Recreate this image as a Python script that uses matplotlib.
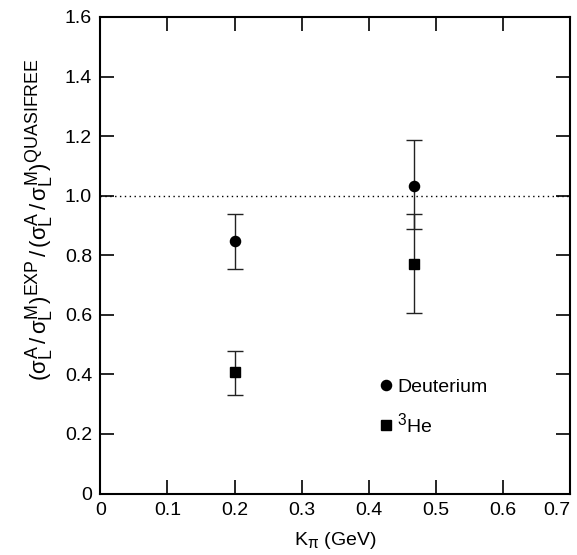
import matplotlib
matplotlib.use("Agg")
import matplotlib.pyplot as plt
import matplotlib._mathtext as _mt

_mt.SHRINK_FACTOR = 0.8

plt.rcParams['font.family'] = ['Liberation Sans', 'DejaVu Sans']
plt.rcParams['mathtext.fontset'] = 'custom'
plt.rcParams['mathtext.rm'] = 'Liberation Sans'
plt.rcParams['mathtext.it'] = 'Liberation Sans'
plt.rcParams['mathtext.bf'] = 'Liberation Sans'

# Data
k_pi = [0.2, 0.468]
deut_y = [0.849, 1.031]
deut_lo = [0.095, 0.142]
deut_hi = [0.090, 0.155]
he3_y = [0.408, 0.769]
he3_lo = [0.078, 0.163]
he3_hi = [0.070, 0.170]

xticks = [0, 0.1, 0.2, 0.3, 0.4, 0.5, 0.6, 0.7]
xticklabels = ['0', '0.1', '0.2', '0.3', '0.4', '0.5', '0.6', '0.7']
yticks = [0, 0.2, 0.4, 0.6, 0.8, 1.0, 1.2, 1.4, 1.6]
yticklabels = ['0', '0.2', '0.4', '0.6', '0.8', '1.0', '1.2', '1.4', '1.6']

fig = plt.figure(figsize=(5.77, 5.55), dpi=100)
ax = fig.add_axes([0.174, 0.1108, 0.814, 0.8586])

ax.axhline(1.0, color='black', lw=1.0, ls=(0, (1, 2.5)), zorder=1)

ax.errorbar(k_pi, deut_y, yerr=[deut_lo, deut_hi], fmt='o', color='black',
            ecolor='#222222', elinewidth=1.0, capsize=6, capthick=1.0,
            markersize=7.3, label='Deuterium', zorder=3)
ax.errorbar(k_pi, he3_y, yerr=[he3_lo, he3_hi], fmt='s', color='black',
            ecolor='#222222', elinewidth=1.0, capsize=6, capthick=1.0,
            markersize=7.0, label=r'$^{3}$He', zorder=3)

ax.set_xlim(0, 0.7)
ax.set_ylim(0, 1.6)
ax.set_xticks(xticks)
ax.set_xticklabels(xticklabels)
ax.set_yticks(yticks)
ax.set_yticklabels(yticklabels)
ax.tick_params(direction='in', length=10, width=1.2, labelsize=14,
               top=True, right=True, pad=6)
ax.get_xticklabels()[-1].set_horizontalalignment('right')
for s in ax.spines.values():
    s.set_linewidth(1.5)

ax.set_xlabel(r'K$_{\pi}$ (GeV)', fontsize=14, labelpad=8)
ax.set_ylabel(r'$(\sigma_L^A\,/\,\sigma_L^M)^{EXP}\,/\,(\sigma_L^A\,/\,\sigma_L^M)^{QUASIFREE}$',
              fontsize=16)
ax.yaxis.set_label_coords(-0.095, 0.574)

handles, labels = ax.get_legend_handles_labels()
handles = [h[0] for h in handles]
ax.legend(handles, labels, loc='upper left', bbox_to_anchor=(0.566, 0.258),
          frameon=False, fontsize=14, handletextpad=0.0, handlelength=1.2,
          labelspacing=0.8, borderaxespad=0)

fig.savefig('out.png', dpi=100)
